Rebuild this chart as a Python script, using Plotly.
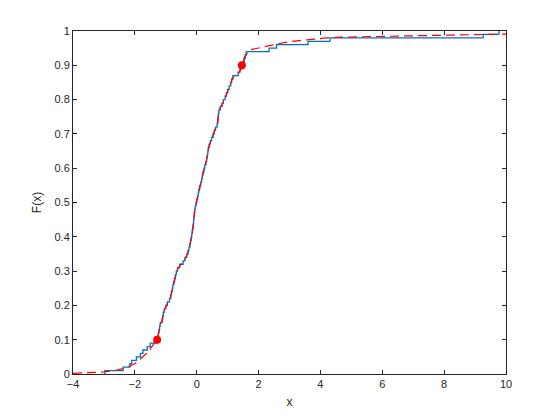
import plotly.graph_objects as go

# Sorted sample (empirical CDF jumps)
sample_x = [
    -2.97, -2.38, -2.16, -2.10, -1.95, -1.82, -1.74, -1.60, -1.50, -1.30,
    -1.26, -1.24, -1.22, -1.20, -1.18, -1.12, -1.10, -1.08, -1.05, -1.00,
    -0.95, -0.88, -0.84, -0.82, -0.79, -0.77, -0.75, -0.72, -0.69, -0.66,
    -0.62, -0.55, -0.44, -0.38, -0.32, -0.28, -0.25, -0.22, -0.20, -0.18,
    -0.16, -0.14, -0.12, -0.11, -0.10, -0.09, -0.08, -0.07, -0.05, -0.02,
    0.00, 0.03, 0.05, 0.07, 0.10, 0.13, 0.16, 0.18, 0.20, 0.23,
    0.26, 0.30, 0.32, 0.34, 0.36, 0.37, 0.40, 0.44, 0.48, 0.53,
    0.57, 0.61, 0.66, 0.68, 0.69, 0.70, 0.72, 0.76, 0.82, 0.86,
    0.92, 0.96, 1.00, 1.05, 1.10, 1.13, 1.17, 1.34, 1.40, 1.46,
    1.50, 1.54, 1.57, 1.60, 2.34, 2.58, 3.60, 4.31, 9.26, 9.77,
]

# Fitted distribution (red dashed): tails
lower_tail_x = [-4.0, -3.5, -3.0, -2.6, -2.3, -2.0, -1.8, -1.6, -1.45, -1.28]
lower_tail_F = [0.002, 0.003, 0.006, 0.011, 0.018, 0.030, 0.045, 0.062, 0.080, 0.100]
upper_tail_x = [1.46, 1.55, 1.72, 2.1, 2.6, 3.0, 3.56, 4.1, 4.6, 5.6, 6.5, 7.4, 8.5, 10.0]
upper_tail_F = [0.900, 0.925, 0.945, 0.953, 0.962, 0.969, 0.975, 0.979, 0.982, 0.984, 0.986, 0.988, 0.990, 0.991]

# Quantile markers
quant_x = [-1.28, 1.46]
quant_F = [0.10, 0.90]

n = len(sample_x)
ecdf_x = [sample_x[0]] + sample_x
ecdf_F = [0.0] + [(k + 1) / n for k in range(n)]

# middle part of the fit: linear through step midpoints between the quantiles
mid_x, mid_F = [], []
for k, v in enumerate(sample_x):
    f = (k + 0.5) / n
    if quant_F[0] < f < quant_F[1]:
        mid_x.append(v)
        mid_F.append(f)
fit_x = lower_tail_x + mid_x + upper_tail_x
fit_F = lower_tail_F + mid_F + upper_tail_F

fig = go.Figure()
fig.add_trace(go.Scatter(x=ecdf_x, y=ecdf_F, mode="lines", line=dict(color="#0072BD", width=1.3, shape="hv"),
                         showlegend=False, hoverinfo="skip"))
fig.add_trace(go.Scatter(x=fit_x, y=fit_F, mode="lines", line=dict(color="#FF0000", width=1.2, dash="9px,5px"),
                         showlegend=False, hoverinfo="skip"))
fig.add_trace(go.Scatter(x=quant_x, y=quant_F, mode="markers", marker=dict(color="#FF0000", size=8),
                         showlegend=False, hoverinfo="skip"))

axis_common = dict(showline=True, linecolor="#262626", linewidth=1, mirror="ticks", ticks="inside",
                   ticklen=4, tickcolor="#262626", showgrid=False, zeroline=False,
                   tickfont=dict(family="Liberation Sans, Arial", size=11, color="#262626"))
fig.update_xaxes(range=[-4, 10], tickvals=[-4, -2, 0, 2, 4, 6, 8, 10],
                 title=dict(text="x", font=dict(family="Liberation Sans, Arial", size=12, color="#262626"), standoff=8),
                 **axis_common)
fig.update_yaxes(range=[0, 1], tickvals=[i / 10 for i in range(11)],
                 ticktext=["0", "0.1", "0.2", "0.3", "0.4", "0.5", "0.6", "0.7", "0.8", "0.9", "1"],
                 title=dict(text="F(x)", font=dict(family="Liberation Sans, Arial", size=12, color="#262626"), standoff=10),
                 **axis_common)
fig.update_layout(width=552, height=412, margin=dict(l=65, r=54, t=23, b=46, pad=0),
                  paper_bgcolor="white", plot_bgcolor="white")
fig.write_html("out.html")
